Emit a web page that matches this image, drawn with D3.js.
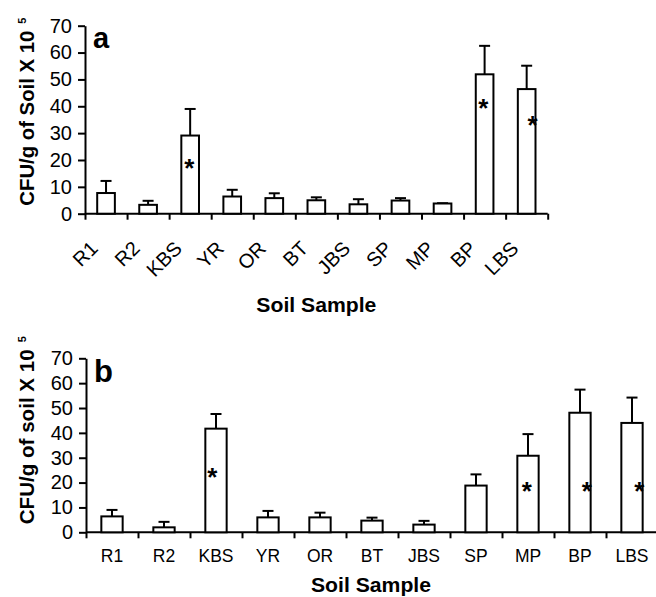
<html>
<head>
    <title>CFU per gram of soil</title>
    <script src="https://d3js.org/d3.v7.min.js"></script>
    <style>
        body { margin: 0; background: #fff; }
        svg { display: block; font-family: "Liberation Sans", Arial, sans-serif; }
        .axis path, .axis line { stroke: #000; stroke-width: 2px; }
        .axis text { fill: #000; font-size: 20px; }
        .bar { fill: #fff; stroke: #000; stroke-width: 2px; }
        .err { stroke: #000; stroke-width: 2px; }
        .bold { font-weight: bold; fill: #000; }
    </style>
</head>
<body>
<svg width="656" height="597"></svg>
<script>

    // soil samples
    var samples = ["R1", "R2", "KBS", "YR", "OR", "BT", "JBS", "SP", "MP", "BP", "LBS"];
    var yTicks = [0, 10, 20, 30, 40, 50, 60, 70];

    // panel a: mean and error (upper bar only)
    var meanA = [7.7, 3.3, 29.1, 6.4, 5.8, 5.0, 3.5, 4.9, 3.8, 51.9, 46.4];
    var errA  = [4.5, 1.5, 9.9, 2.5, 1.8, 1.1, 1.9, 0.9, 0.1, 10.6, 8.7];
    var starA = ["KBS", "BP", "LBS"];
    var starValA = [19.2, 41.4, 35.1];
    var starShiftA = [-0.02, -0.03, 0.14];   // fraction of band

    // panel b
    var meanB = [6.4, 2.0, 41.7, 6.0, 6.0, 4.7, 3.1, 18.8, 30.8, 48.1, 44.0];
    var errB  = [2.6, 2.2, 5.9, 2.6, 1.9, 1.2, 1.5, 4.5, 8.7, 9.3, 10.2];
    var starB = ["KBS", "MP", "BP", "LBS"];
    var starValB = [24.4, 19.0, 19.0, 19.0];
    var starShiftB = [-0.07, -0.025, 0.13, 0.14];

    var svg = d3.select("svg");

    function panel(opt) {
        var g = svg.append("g");
        var y = d3.scaleLinear().domain([0, 70]).range([opt.y0, opt.y1]);
        var x = d3.scaleBand().domain(samples).range([opt.x0, opt.x1]).padding(0);
        var xi = d3.scaleLinear().domain([0, samples.length]).range([opt.x0, opt.x1]);
        var bw = x.bandwidth() * opt.barFrac;

        // x axis with ticks at band edges
        g.append("g")
            .attr("class", "axis")
            .attr("transform", "translate(0," + opt.y0 + ")")
            .call(d3.axisBottom(xi).tickValues(d3.range(0, samples.length + 1))
                .tickSize(6).tickSizeOuter(0).tickFormat(""))
            .select(".domain").attr("d", "M" + opt.x0 + ",0H" + opt.axisEnd);

        // y axis
        g.append("g")
            .attr("class", "axis")
            .attr("transform", "translate(" + opt.x0 + ",0)")
            .call(d3.axisLeft(y).tickValues(yTicks).tickSize(7).tickSizeOuter(0).tickPadding(6));

        var data = samples.map(function(s, i) {
            return {name: s, mean: opt.mean[i], err: opt.err[i]};
        });

        // error bars
        var eb = g.append("g").selectAll("g").data(data).enter().append("g");
        eb.append("line").attr("class", "err")
            .attr("x1", function(d) { return x(d.name) + x.bandwidth() / 2; })
            .attr("x2", function(d) { return x(d.name) + x.bandwidth() / 2; })
            .attr("y1", function(d) { return y(d.mean); })
            .attr("y2", function(d) { return y(d.mean + d.err); });
        eb.append("line").attr("class", "err")
            .attr("x1", function(d) { return x(d.name) + x.bandwidth() / 2 - 5.5; })
            .attr("x2", function(d) { return x(d.name) + x.bandwidth() / 2 + 5.5; })
            .attr("y1", function(d) { return y(d.mean + d.err); })
            .attr("y2", function(d) { return y(d.mean + d.err); });

        // bars
        g.append("g").selectAll("rect").data(data).enter().append("rect")
            .attr("class", "bar")
            .attr("x", function(d) { return x(d.name) + (x.bandwidth() - bw) / 2; })
            .attr("width", bw)
            .attr("y", function(d) { return y(d.mean); })
            .attr("height", function(d) { return opt.y0 - y(d.mean); });

        // significance stars
        g.append("g").selectAll("text").data(opt.stars).enter().append("text")
            .attr("class", "bold")
            .attr("text-anchor", "middle")
            .attr("font-size", 26)
            .attr("x", function(d, i) { return x(d) + x.bandwidth() * (0.5 + opt.starShift[i]); })
            .attr("y", function(d, i) { return y(opt.starVal[i]); })
            .attr("dy", "0.57em")
            .text("*");

        // category labels
        var lab = g.append("g").selectAll("text").data(samples).enter().append("text")
            .attr("fill", "#000")
            .text(function(d) { return d; });
        if (opt.rotate) {
            lab.attr("text-anchor", "end")
                .attr("font-size", 20)
                .attr("transform", function(d) {
                    return "translate(" + (x(d) + x.bandwidth() / 2 - 7) + "," + (opt.y0 + 36) + ") rotate(-45)";
                });
        } else {
            lab.attr("text-anchor", "middle")
                .attr("font-size", 17.5)
                .attr("x", function(d) { return x(d) + x.bandwidth() / 2; })
                .attr("y", opt.y0 + 30);
        }

        // panel letter
        g.append("text").attr("class", "bold")
            .attr("font-size", opt.letterSize)
            .attr("x", opt.x0 + 8).attr("y", opt.letterY)
            .text(opt.letter);

        // y axis title
        g.append("text").attr("class", "bold")
            .attr("font-size", 20)
            .attr("text-anchor", "start")
            .attr("textLength", 175).attr("lengthAdjust", "spacingAndGlyphs")
            .attr("transform", "translate(34," + (opt.y0 - 8) + ") rotate(-90)")
            .text(opt.ytitle);
        g.append("text").attr("class", "bold")
            .attr("font-size", 11)
            .attr("text-anchor", "middle")
            .attr("transform", "translate(26," + (opt.y0 - 8 - 175 - 10) + ") rotate(-90)")
            .text("5");

        // x axis title
        g.append("text").attr("class", "bold")
            .attr("font-size", 20)
            .attr("text-anchor", "middle")
            .attr("textLength", 120).attr("lengthAdjust", "spacingAndGlyphs")
            .attr("x", (opt.x0 + opt.titleEnd) / 2)
            .attr("y", opt.titleY)
            .text("Soil Sample");
    }

    panel({
        x0: 85, x1: 547.7, axisEnd: 547.7, titleEnd: 547.7, y0: 213.7, y1: 25.7, barFrac: 0.42,
        mean: meanA, err: errA, stars: starA, starVal: starValA, starShift: starShiftA,
        rotate: true, letter: "a", letterSize: 29, letterY: 48, titleY: 312,
        ytitle: "CFU/g of Soil X 10"
    });

    panel({
        x0: 86, x1: 658, axisEnd: 658, titleEnd: 656, y0: 532.3, y1: 358.3, barFrac: 0.41,
        mean: meanB, err: errB, stars: starB, starVal: starValB, starShift: starShiftB,
        rotate: false, letter: "b", letterSize: 31, letterY: 382, titleY: 592,
        ytitle: "CFU/g of soil X 10"
    });

</script>
</body>
</html>
